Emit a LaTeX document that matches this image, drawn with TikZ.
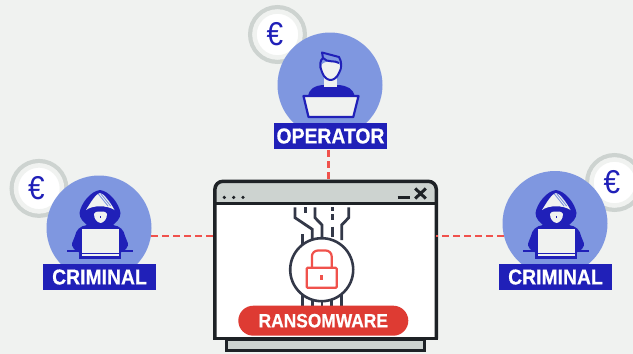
\documentclass[tikz,border=0pt]{standalone}
\usepackage{fontspec}
\setmainfont[FakeStretch=0.9,BoldFeatures={FakeBold=0.6}]{Liberation Sans}
\usepackage{tikz}
\usetikzlibrary{positioning,calc}
\definecolor{pagegray}{HTML}{F0F2F0}
\definecolor{bargray}{HTML}{CDD3D0}
\definecolor{roleblue}{HTML}{2020B8}
\definecolor{softblue}{HTML}{7F97E0}
\definecolor{winblack}{HTML}{1E2226}
\definecolor{wireslate}{HTML}{333848}
\definecolor{alertred}{HTML}{F0524C}
\definecolor{pillred}{HTML}{DE3B33}
\tikzstyle{person} = [circle, fill=softblue, minimum size=105pt, inner sep=0pt]
\tikzstyle{role} = [rectangle, fill=roleblue, text=white, minimum width=113pt, minimum height=26pt, inner sep=0pt, font=\fontsize{21.5}{22}\selectfont\bfseries]
\tikzstyle{coin} = [circle, fill=white, draw=pagegray, line width=4.5pt, minimum size=46pt, inner sep=0pt, text=roleblue, font=\fontsize{33}{33}\selectfont]
\tikzstyle{coinring} = [circle, draw=bargray, line width=4.5pt, minimum size=54.5pt, inner sep=0pt]
\tikzstyle{link} = [alertred, line width=2.2pt, dash pattern=on 7pt off 4pt]
\tikzstyle{wire} = [wireslate, line width=2.8pt]
\newcommand{\hoodfig}[2]{
	\begin{scope}[shift={(#1,#2)}]
		\fill[roleblue] (1,-38) .. controls (-8,-37) and (-18,-25) .. (-19.5,-15) .. controls (-19.5,-9) and (-15,-6) .. (-12,-3)
			.. controls (-19,-2) and (-23,2) .. (-24,8) .. controls (-26,14) and (-29,16) .. (-25,21) -- (-19,25) -- (21,25) -- (27,21)
			.. controls (31,16) and (28,14) .. (26,8) .. controls (25,2) and (21,-2) .. (14,-3)
			.. controls (17,-6) and (21.5,-9) .. (21.5,-15) .. controls (20,-25) and (10,-37) .. (1,-38) -- cycle;
		\begin{scope}
			\clip (-13,-18) .. controls (-8,-26) and (-3,-34.5) .. (1,-35) .. controls (5,-34.5) and (11,-26) .. (15.5,-18) .. controls (8,-23) and (-6,-23) .. (-13,-18) -- cycle;
			\fill[pagegray] (-14,-36) rectangle (17,-16);
			\foreach \s in {0,2.6,5.2,7.8}
				\draw[softblue, line width=0.9pt] (-1+\s,-34.5) -- (9+\s,-22);
		\end{scope}
		\fill[pagegray] (1.7,-16.5) .. controls (5,-16.5) and (8,-16) .. (8,-14) .. controls (8,-9) and (5,-5.5) .. (1.7,-5) .. controls (-2,-5.5) and (-5,-9) .. (-5,-14) .. controls (-5,-16) and (-2,-16.5) .. (1.7,-16.5) -- cycle;
		\fill[roleblue] (1.2,-12.5) rectangle (1.8,-10.5);
		\fill[roleblue] (-32.3,21.8) rectangle (33.7,23.6);
		\fill[roleblue] (-20,24) rectangle (22,30.5);
		\fill[pagegray] (-17.3,1) rectangle (20,24.5);
		\fill[pagegray] (-17.3,26.4) rectangle (20,28);
	\end{scope}
}
\newcommand{\coinat}[3]{
	\node[coinring] (ring#1) at (#2,#3) {};
	\node[coin] (coin#1) at (ring#1) {\hspace*{-5pt}€};
}
\begin{document}
\begin{tikzpicture}[x=1pt,y=-1pt]
	\useasboundingbox[fill=pagegray] (0,0) rectangle (633,354);
	% coins behind the people
	\coinat{op}{277.5}{34.5}
	\coinat{left}{39}{188.4}
	\coinat{right}{614.5}{182.5}
	\node[person] (opcircle) at (330,85) {};
	\node[person] (leftcircle) at (99,228) {};
	\node[person] (rightcircle) at (555,223.5) {};
	% window
	\node[rectangle, fill=bargray, draw=winblack, line width=3.2pt, minimum width=198pt, minimum height=11pt, inner sep=0pt] (winbase) at (325.7,345) {};
	\node[rectangle, fill=white, minimum width=221pt, minimum height=157pt, inner sep=0pt] (window) at (325.6,260) {};
	\fill[bargray, rounded corners=8pt] (window.north west) -- (window.north east) -- ([yshift=-22pt]window.north east) -- ([yshift=-22pt]window.north west) -- cycle;
	\fill[bargray] ([yshift=-10pt]window.north west) rectangle ([yshift=-22pt]window.north east);
	\draw[winblack, line width=2.6pt] ([yshift=-22pt]window.north west) -- ([yshift=-22pt]window.north east);
	\foreach \x in {224.3,233.7,243}
		\fill[winblack] (\x,197.4) circle (1.8);
	\draw[winblack, line width=2.8pt] (397.7,197.6) -- (410,197.6);
	\draw[winblack, line width=3pt] (415.2,188.5) -- (425.8,198.5) (415.2,198.5) -- (425.8,188.5);
	% wires
	\draw[wire] (295,207.3) -- (295,217.7) -- (312.3,229.3) -- (312.3,240);
	\draw[wire] (315,207.3) -- (315,217.7) -- (322,225) -- (322,240);
	\draw[wire] (348.7,207.3) -- (348.7,217.7) -- (341.7,225) -- (341.7,240);
	\draw[wire] (305.3,207.3) -- (305.3,213.3);
	\draw[wire] (302.3,234.3) -- (302.3,246);
	\draw[wire] (332.3,207.3) -- (332.3,210.7) (332.3,214.3) -- (332.3,220) (332.3,226.7) -- (332.3,237);
	\foreach \x in {302.3,312.3,322,331.7,341.3}
		\draw[wire] (\x,295) -- (\x,308);
	\node[circle, fill=white, draw=wireslate, line width=2.6pt, minimum size=63pt, inner sep=0pt] (lockring) at (321.7,269.7) {};
	% lock
	\node[rectangle, rounded corners=1pt, draw=alertred, line width=2.2pt, minimum width=30pt, minimum height=20pt, inner sep=0pt] (lockbody) at (321.7,277.8) {};
	\draw[alertred, line width=2.2pt, rounded corners=6pt] (311.9,267.3) -- (311.9,250.5) -- (331.7,250.5) -- (331.7,267.3);
	\fill[alertred] (320.2,275) rectangle (323.2,280);
	\node[rectangle, rounded corners=15pt, fill=pillred, text=white, minimum width=170pt, minimum height=30pt, inner sep=0pt, font=\fontsize{19.3}{20}\selectfont\bfseries] (ransom) at (323.3,320.7) {RANSOMWARE};
	\draw[winblack, line width=3.5pt, rounded corners=8pt] (window.south west) -- (window.north west) -- (window.north east) -- (window.south east);
	\draw[winblack, line width=3.5pt, line cap=rect] (window.south west) -- (window.south east);
	% links
	\coordinate (opout) at (328.5,150);
	\draw[link] (leftcircle.-9) -- (leftcircle.-9 -| window.west);
	\draw[link] (rightcircle.194.3) -- (rightcircle.194.3 -| window.east);
	\draw[link] (opout) -- (opout |- window.north);
	% people
	\hoodfig{99}{228}
	\hoodfig{555}{228}
	\fill[roleblue] (308,97) .. controls (309,88) and (315,86) .. (322,85) -- (339,85) .. controls (347,86) and (353,88) .. (355,97) -- cycle;
	\fill[pagegray] (324,78) rectangle (337,87);
	\fill[pagegray] (321.5,66) .. controls (321.5,60) and (340,60) .. (340,66) .. controls (340,76) and (336,79) .. (330.7,79.5) .. controls (326,79) and (321.5,76) .. (321.5,66) -- cycle;
	\draw[roleblue, line width=2pt, line join=round] (322,72) .. controls (319,66) and (320,60) .. (323,58) -- (322,52.5) -- (339,57) .. controls (342,62) and (342,68) .. (339,73) .. controls (337,78) and (333,80) .. (330.7,80) .. controls (328,80) and (324,78) .. (322,72) -- cycle;
	\draw[roleblue, line width=2pt, line join=round] (323,58) .. controls (327,63) and (335,60) .. (339,63);
	\draw[roleblue, line width=2.2pt, fill=pagegray, line join=round] (303.5,96) -- (358.5,96) -- (353.3,117) -- (308.5,117) -- cycle;
	% labels
	\node[role] (oplabel) at (330.5,136) {OPERATOR};
	\node[role] (leftlabel) at (99.5,277) {CRIMINAL};
	\node[role] (rightlabel) at (555.5,277) {CRIMINAL};
\end{tikzpicture}
\end{document}
